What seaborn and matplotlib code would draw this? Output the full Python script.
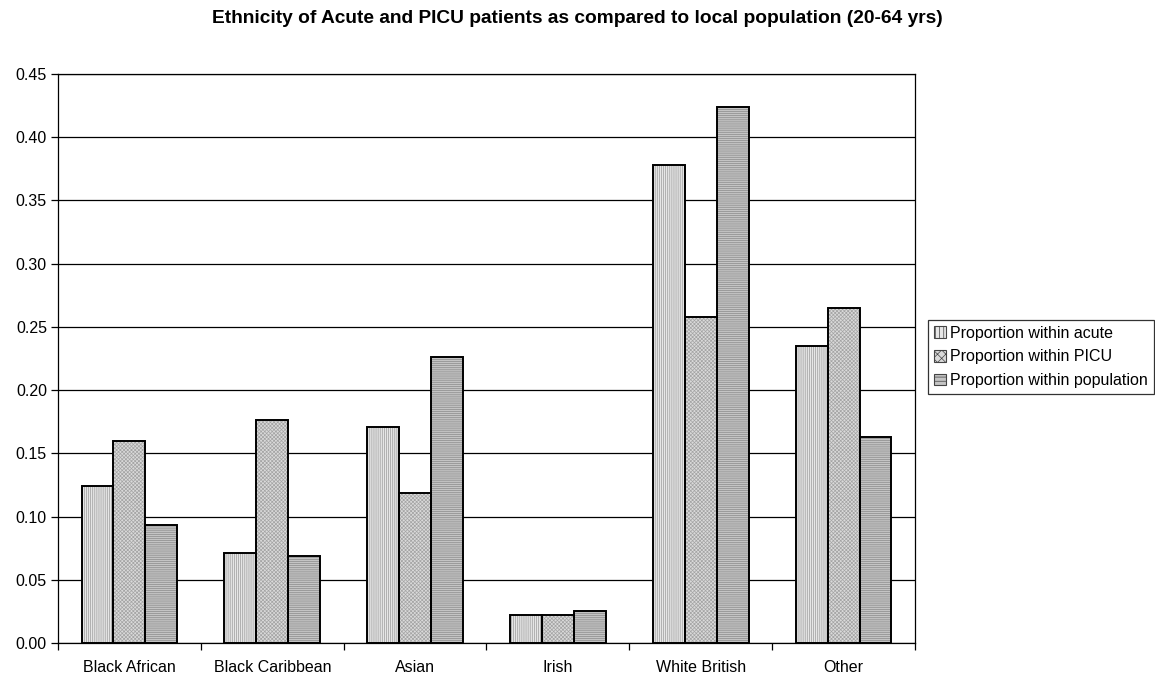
import pandas as pd
import matplotlib
matplotlib.use("Agg")
import matplotlib.pyplot as plt
import seaborn as sns
from matplotlib.patches import Patch, Rectangle
from matplotlib.ticker import FormatStrFormatter, FixedLocator

groups = ['Black African', 'Black Caribbean', 'Asian', 'Irish', 'White British', 'Other']
series = ['Proportion within acute', 'Proportion within PICU', 'Proportion within population']
acute = [0.124, 0.071, 0.171, 0.022, 0.378, 0.235]
picu = [0.160, 0.176, 0.119, 0.022, 0.258, 0.265]
population = [0.093, 0.069, 0.226, 0.025, 0.424, 0.163]

fills = ['#e6e6e6', '#dadada', '#c4c4c4']
hatches = ['||||||||', 'xxxxxxxxx', '--------']

df = pd.DataFrame({
    'Ethnicity': groups * 3,
    'Series': [s for s in series for _ in groups],
    'Value': acute + picu + population,
})

sns.set_theme(style="white")
plt.rcParams['font.family'] = ['Liberation Sans', 'DejaVu Sans']
plt.rcParams['hatch.linewidth'] = 0.5
plt.rcParams['text.color'] = 'black'
plt.rcParams['xtick.color'] = 'black'
plt.rcParams['ytick.color'] = 'black'

fig = plt.figure(figsize=(11.55, 6.82), dpi=100)
ax = fig.add_axes([58 / 1155, 1 - 643 / 682, (915 - 58) / 1155, (643 - 74) / 682])

sns.barplot(data=df, x='Ethnicity', y='Value', hue='Series', hue_order=series,
            palette=fills, width=0.67, ax=ax, legend=False, saturation=1,
            linewidth=0, errorbar=None)

hatch_col = ['#9a9a9a', '#a4a4a4', '#8a8a8a']
bars = [p for p in ax.patches if isinstance(p, Rectangle)]
n = len(groups)
for i, p in enumerate(bars):
    k = i // n
    p.set_hatch(hatches[k])
    p.set_edgecolor(hatch_col[k])
    p.set_linewidth(0)
    ax.add_patch(Rectangle(p.get_xy(), p.get_width(), p.get_height(), fill=False,
                           edgecolor='black', linewidth=1.4, zorder=3))

ax.set_ylim(0, 0.45)
ax.set_xlim(-0.5, n - 0.5)
ax.set_yticks([i * 0.05 for i in range(10)])
ax.yaxis.set_major_formatter(FormatStrFormatter('%.2f'))
ax.yaxis.grid(True, color='black', linewidth=0.9)
ax.set_axisbelow(True)
ax.set_xlabel('')
ax.set_ylabel('')
for s in ax.spines.values():
    s.set_color('black')
    s.set_linewidth(0.9)

ax.tick_params(axis='x', which='major', length=0, labelsize=11.5, pad=12, labelcolor='black')
ax.xaxis.set_minor_locator(FixedLocator([i - 0.5 for i in range(n + 1)]))
ax.tick_params(axis='x', which='minor', length=5, width=0.9, direction='out', bottom=True, color='black')
ax.tick_params(axis='y', length=5, width=0.9, direction='out', left=True, color='black',
               labelsize=11.5, pad=3, labelcolor='black')

fig.suptitle('Ethnicity of Acute and PICU patients as compared to local population (20-64 yrs)',
             fontsize=13.8, fontweight='bold', y=1 - 10 / 682, va='top', color='black')

handles = [Patch(facecolor=fills[k], edgecolor='#444444', hatch=hatches[k][:4], linewidth=0.8)
           for k in range(3)]
leg = fig.legend(handles, series, loc='upper left', bbox_to_anchor=(928 / 1155, 1 - 320 / 682),
                 fontsize=11.5, frameon=True, fancybox=False, borderpad=0.35,
                 handlelength=0.75, handleheight=0.75, handletextpad=0.3, labelspacing=0.55,
                 borderaxespad=0)
leg.get_frame().set_edgecolor('black')
leg.get_frame().set_linewidth(0.9)

fig.savefig('out.png', dpi=100)
